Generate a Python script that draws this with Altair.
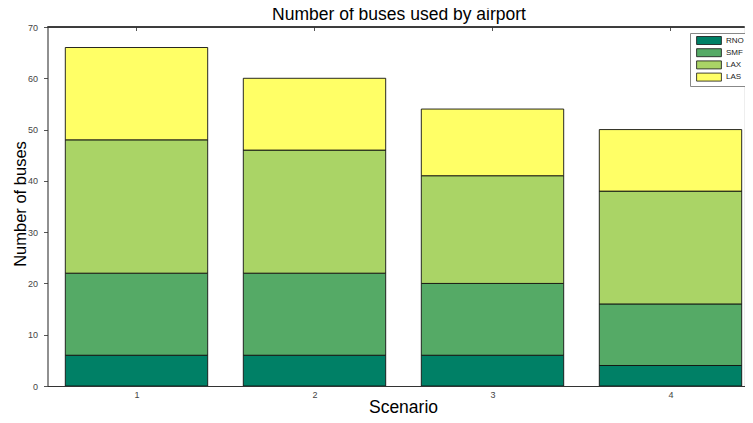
import altair as alt
import pandas as pd

title_text = ["Number of buses used by airport"]
scenarios = [1, 2, 3, 4]
airports = ["RNO", "SMF", "LAX", "LAS"]
colors = ["#008066", "#55AA66", "#AAD466", "#FFFF66"]
rno = [6, 6, 6, 4]
smf = [16, 16, 14, 12]
lax = [26, 24, 21, 22]
las = [18, 14, 13, 12]

rows = []
for i, s in enumerate(scenarios):
    for k, (a, vals) in enumerate(zip(airports, [rno, smf, lax, las])):
        rows.append({"scenario": s, "airport": a, "buses": vals[i], "ord": k})
df = pd.DataFrame(rows)

W, H = 697, 359
xscale = alt.Scale(domain=[0.5, 0.5 + W / 178.0], nice=False, zero=False, padding=0)
yscale = alt.Scale(domain=[0, 70], nice=False, padding=0)
FONT = "Liberation Sans"

bars = alt.Chart(df).transform_calculate(
    x0="datum.scenario - 0.4", x1="datum.scenario + 0.4"
).mark_bar(stroke="#111111", strokeWidth=0.9, clip=True).encode(
    x=alt.X("x0:Q", scale=xscale,
            axis=alt.Axis(values=scenarios, format="d", title="Scenario", ticks=False,
                          labelPadding=4, labelFontSize=9, labelColor="#444444",
                          titleFontSize=17.5, titleFontWeight="normal",
                          titleX=355.5, titleY=26, titleBaseline="alphabetic",
                          domainColor="#333333", grid=False)),
    x2="x1:Q",
    y=alt.Y("sum(buses):Q", scale=yscale, stack="zero",
            axis=alt.Axis(values=list(range(0, 71, 10)), title="Number of buses",
                          tickSize=4, tickColor="#555555", labelPadding=6,
                          labelFontSize=9, labelColor="#444444",
                          titleFontSize=16.5, titleFontWeight="normal",
                          titleX=-27.5, titleY=H / 2 - 3, titleBaseline="middle",
                          titleAngle=-90,
                          domainColor="#333333", grid=False)),
    color=alt.Color("airport:N", scale=alt.Scale(domain=airports, range=colors),
                    legend=alt.Legend(title=None, orient="none", legendX=642.5, legendY=6,
                                      symbolType="M-3.1,-1H3.1V1H-3.1Z", symbolSize=64,
                                      symbolStrokeColor="#111111", symbolStrokeWidth=0.8,
                                      symbolOffset=11.5, labelOffset=12.5,
                                      labelFontSize=8, labelFont=FONT, labelColor="#222222",
                                      rowPadding=-0.8, padding=3,
                                      strokeColor="#888888", fillColor="white")),
    order=alt.Order("ord:Q"),
)

border = pd.DataFrame({"scenario": scenarios})
top_line = alt.Chart(border).mark_rule(color="#333333", strokeWidth=1).encode(
    x=alt.value(0), x2=alt.value(W), y=alt.value(0)
)
top_ticks = alt.Chart(border).mark_rule(color="#555555", strokeWidth=1).encode(
    x=alt.X("scenario:Q", scale=xscale), y=alt.value(0), y2=alt.value(4)
)
title_mark = alt.Chart(pd.DataFrame({"t": title_text})).mark_text(
    font=FONT, fontSize=17.5, color="#000000", align="center", baseline="alphabetic"
).encode(text="t:N", x=alt.value(351.5), y=alt.value(-7.5))

chart = alt.layer(bars, top_ticks, top_line, title_mark).properties(
    width=W, height=H,
    autosize=alt.AutoSizeParams(type="none"),
    padding={"left": 39.5, "top": 19, "right": 0, "bottom": 29},
).configure_view(stroke=None).configure(font=FONT).configure_axis(
    labelFont=FONT, titleFont=FONT
)

chart.save("out.html", embed_options={"renderer": "svg", "actions": False})
